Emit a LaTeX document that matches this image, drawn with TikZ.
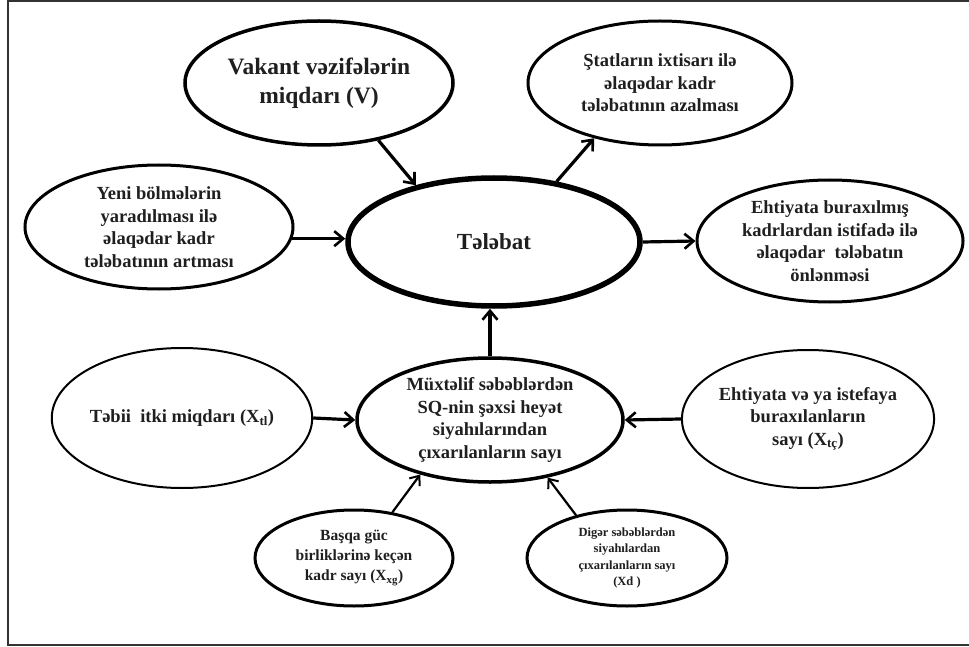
\documentclass[tikz,border=0pt]{standalone}
\usepackage{fontspec}
\setmainfont{Liberation Serif}
\usetikzlibrary{shapes.geometric,arrows.meta}
\tikzset{
  ell/.style={ellipse, draw=black, inner sep=0pt, align=center, font=\bfseries, text=black!88},
  conn/.style={line width=3.2pt, -{Straight Barb[length=9pt,width=15pt,line width=2.6pt]}},
  thinconn/.style={line width=2.2pt, -{Straight Barb[length=8pt,width=13pt,line width=2pt]}},
}
\newcommand{\fsA}{\fontsize{23.5}{29}\selectfont}
\newcommand{\fsB}{\fontsize{18.5}{22.5}\selectfont}
\newcommand{\fsC}{\fontsize{15.5}{20}\selectfont}
\newcommand{\fsD}{\fontsize{12.5}{16.5}\selectfont}
\begin{document}
\begin{tikzpicture}[x=1pt,y=-1pt]
\useasboundingbox (0,0) rectangle (969,647);
\fill[white] (0,0) rectangle (969,647);
% frame
\draw[line width=2pt, black!80] (969,1) -- (8,1) -- (8,645) -- (969,645);

% nodes
\node[ell, line width=3.5pt, minimum width=268pt, minimum height=124pt, font=\bfseries\fsA] (v) at (319,83) {Vakant vəzifələrin\\miqdarı (V)};
\node[ell, line width=3pt, minimum width=264pt, minimum height=124pt, font=\bfseries\fsB] (s) at (660,83) {Ştatların ixtisarı ilə\\əlaqədar kadr\\tələbatının azalması};
\node[ell, line width=3pt, minimum width=268pt, minimum height=124pt, font=\bfseries\fsB] (y) at (159,227) {Yeni bölmələrin\\yaradılması ilə\\əlaqədar kadr\\tələbatının artması};
\node[ell, line width=5.5pt, minimum width=292pt, minimum height=128pt, font=\bfseries\fontsize{23}{28}\selectfont] (t) at (494,242) {Tələbat};
\node[ell, line width=3pt, minimum width=266pt, minimum height=122pt, font=\bfseries\fsB] (e) at (830,241) {Ehtiyata buraxılmış\\kadrlardan istifadə ilə\\əlaqədar\ \ tələbatın\\önlənməsi};
\node[ell, line width=2pt, minimum width=214pt, minimum height=140pt, font=\bfseries\fsB] (a) at (182,418) {Təbii\ \ itki miqdarı (X\textsubscript{tl})};
\node[ell, line width=3.5pt, minimum width=266pt, minimum height=124pt, font=\bfseries\fsB] (m) at (490,420) {Müxtəlif səbəblərdən\\SQ-nin şəxsi heyət\\siyahılarından\\çıxarılanların sayı};
\node[ell, line width=2pt, minimum width=216pt, minimum height=138pt, font=\bfseries\fsB] (i) at (808,419) {Ehtiyata və ya istefaya\\buraxılanların\\sayı (X\textsubscript{tç})};
\node[ell, line width=3pt, minimum width=198pt, minimum height=96pt, font=\bfseries\fsC] (b) at (354,558) {Başqa güc\\birliklərinə keçən\\kadr sayı (X\textsubscript{xg})};
\node[ell, line width=3pt, minimum width=200pt, minimum height=96pt, font=\bfseries\fsD] (d) at (627,558) {Digər səbəblərdən\\siyahılardan\\çıxarılanların sayı\\(Xd )};

% connectors
\draw[conn] (v.-44) -- (t.144);
\draw[conn] (t.44) -- (s.220);
\draw[conn] (y.-5) -- (y.-5 -| t.west);
\draw[conn] (t.east) -- (e.west);
\draw[conn] (m.north) -- (m.north |- t.south);
\draw[conn] (a.east) -- (m.west);
\draw[conn] (i.west) -- (m.east);
\draw[thinconn] (b.50) -- (m.218);
\draw[thinconn] (d.140) -- (m.-45);
\end{tikzpicture}
\end{document}
